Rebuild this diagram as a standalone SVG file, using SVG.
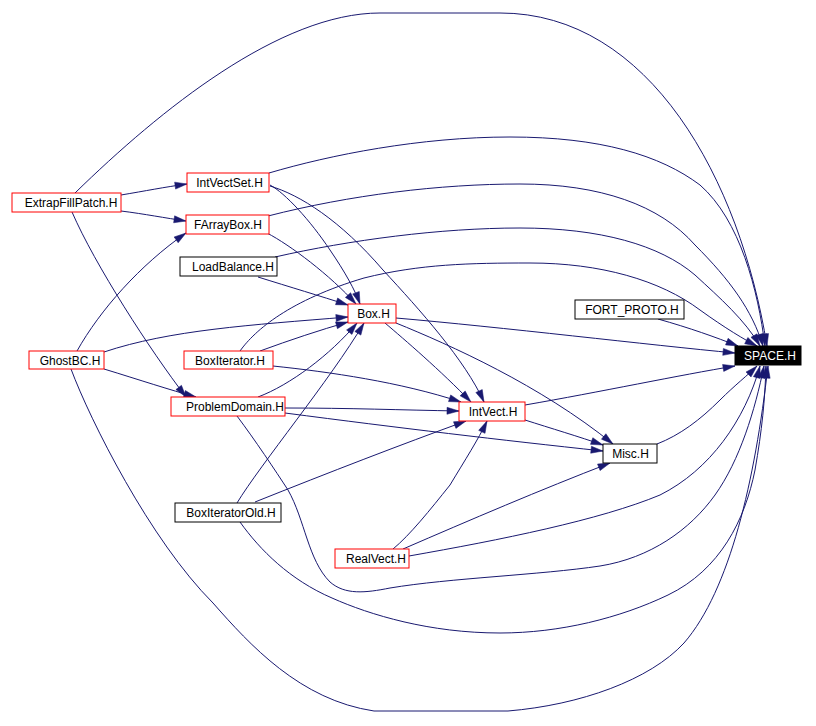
<svg xmlns="http://www.w3.org/2000/svg" width="816" height="726" viewBox="0 0 816 726">
<style>
.n rect{fill:#fff;stroke-width:1}
.r rect{stroke:#ff0000}
.k rect{stroke:#000}
.n text{font-family:"Liberation Sans",Arial,Helvetica,sans-serif;font-size:12px;fill:#000;text-anchor:middle}
.e path{fill:none;stroke:#191970;stroke-width:1;marker-end:url(#ah)}
</style>
<defs>
<marker id="ah" markerUnits="userSpaceOnUse" markerWidth="13" markerHeight="8" refX="12" refY="4" orient="auto" overflow="visible">
<path d="M0,0.5 L12,4 L0,7.5 z" fill="#191970" stroke="#191970" stroke-width="0.5"/>
</marker>
</defs>
<rect width="816" height="726" fill="#fff"/>
<g id="connectors" class="e">
<path d="M121,195 C145,191 165,187 187,184"/>
<path d="M121,211 C145,214 165,218 186,221"/>
<path d="M72,212 C95,265 150,350 186,397"/>
<path d="M75,193 C160,110 280,13 380,13 L500,13 C650,13 740,180 767,346"/>
<path d="M269,173 C330,155 420,137 510,137 C600,137 660,155 700,185 C740,220 758,290 765,346"/>
<path d="M268,216 C350,195 440,184 520,184 C600,184 660,205 695,245 C730,280 752,310 763,346"/>
<path d="M275,257 C350,240 440,228 520,228 C600,228 660,245 695,275 C720,298 745,320 760,346"/>
<path d="M240,351 C255,330 290,300 364,278 C420,264 470,263 530,263 C600,263 660,280 700,310 C725,328 745,340 757,346"/>
<path d="M658,319 C690,328 715,337 738,346"/>
<path d="M396,318 C500,327 650,345 735,353"/>
<path d="M525,405 C600,392 680,375 735,366"/>
<path d="M657,444 C680,435 700,420 720,400 C735,385 748,375 757,366"/>
<path d="M409,556 C500,540 600,520 660,495 C710,470 745,420 760,366"/>
<path d="M237,416 C255,440 275,470 288,490 C305,520 308,560 330,582 C345,595 365,593 390,588 C450,578 540,575 600,566 C650,558 690,530 715,495 C740,460 755,410 764,366"/>
<path d="M240,522 C260,550 290,580 332,598 C370,615 430,633 500,633 C560,633 620,618 668,595 C720,570 745,520 755,470 C762,430 765,400 766,366"/>
<path d="M71,369 C90,420 150,540 213,603 C250,645 300,700 374,711 L508,711 C580,705 650,680 684,643 C730,590 755,480 768,366"/>
<path d="M77,351 C100,310 140,265 186,233"/>
<path d="M104,352 C170,330 250,325 348,317"/>
<path d="M104,369 C140,380 170,390 196,397"/>
<path d="M270,185 C285,193 310,220 330,250 C345,272 355,290 360,304"/>
<path d="M267,233 C290,245 330,275 356,304"/>
<path d="M258,277 C290,287 320,296 348,305"/>
<path d="M270,186 C300,195 340,220 383,270 C420,310 465,360 484,402"/>
<path d="M385,323 C405,340 440,370 471,402"/>
<path d="M396,323 C450,345 540,385 613,444"/>
<path d="M260,351 C290,340 320,330 348,322"/>
<path d="M273,366 C330,372 400,382 461,402"/>
<path d="M258,397 C290,385 330,355 357,323"/>
<path d="M237,503 C260,465 330,380 364,323"/>
<path d="M255,502 C330,472 400,445 466,421"/>
<path d="M285,408 C350,408 400,410 459,411"/>
<path d="M285,413 C400,428 500,440 603,451"/>
<path d="M525,420 C550,428 580,437 603,445"/>
<path d="M393,549 C410,535 430,510 450,485 C465,460 478,440 487,421"/>
<path d="M403,549 C470,520 540,490 610,463"/>
</g>
<g id="ExtrapFillPatch" class="n r"><rect x="12" y="193" width="109" height="19"/><text x="71" y="207">ExtrapFillPatch.H</text></g>
<g id="IntVectSet" class="n r"><rect x="187" y="173" width="82" height="19"/><text x="229.5" y="187">IntVectSet.H</text></g>
<g id="FArrayBox" class="n r"><rect x="186" y="215" width="83" height="19"/><text x="228" y="229">FArrayBox.H</text></g>
<g id="LoadBalance" class="n k"><rect x="180" y="257" width="97" height="19"/><text x="233" y="271">LoadBalance.H</text></g>
<g id="Box" class="n r"><rect x="348" y="304" width="48" height="19"/><text x="373.5" y="318">Box.H</text></g>
<g id="FORT_PROTO" class="n k"><rect x="575" y="300" width="109" height="19"/><text x="632" y="314">FORT_PROTO.H</text></g>
<g id="SPACE"><rect x="735" y="346" width="66" height="19" fill="#000" stroke="#000"/><text x="770" y="360" font-family="'Liberation Sans',Arial,Helvetica,sans-serif" font-size="12" fill="#fff" text-anchor="middle">SPACE.H</text></g>
<g id="GhostBC" class="n r"><rect x="29" y="351" width="75" height="18"/><text x="70" y="364.5">GhostBC.H</text></g>
<g id="BoxIterator" class="n r"><rect x="184" y="351" width="89" height="18"/><text x="230" y="364.5">BoxIterator.H</text></g>
<g id="ProblemDomain" class="n r"><rect x="171" y="397" width="114" height="19"/><text x="235" y="411">ProblemDomain.H</text></g>
<g id="IntVect" class="n r"><rect x="459" y="402" width="66" height="19"/><text x="493" y="416">IntVect.H</text></g>
<g id="Misc" class="n k"><rect x="603" y="444" width="54" height="19"/><text x="630.5" y="458">Misc.H</text></g>
<g id="BoxIteratorOld" class="n k"><rect x="175" y="503" width="106" height="19"/><text x="231" y="517">BoxIteratorOld.H</text></g>
<g id="RealVect" class="n r"><rect x="335" y="549" width="74" height="19"/><text x="376" y="563">RealVect.H</text></g>
</svg>
